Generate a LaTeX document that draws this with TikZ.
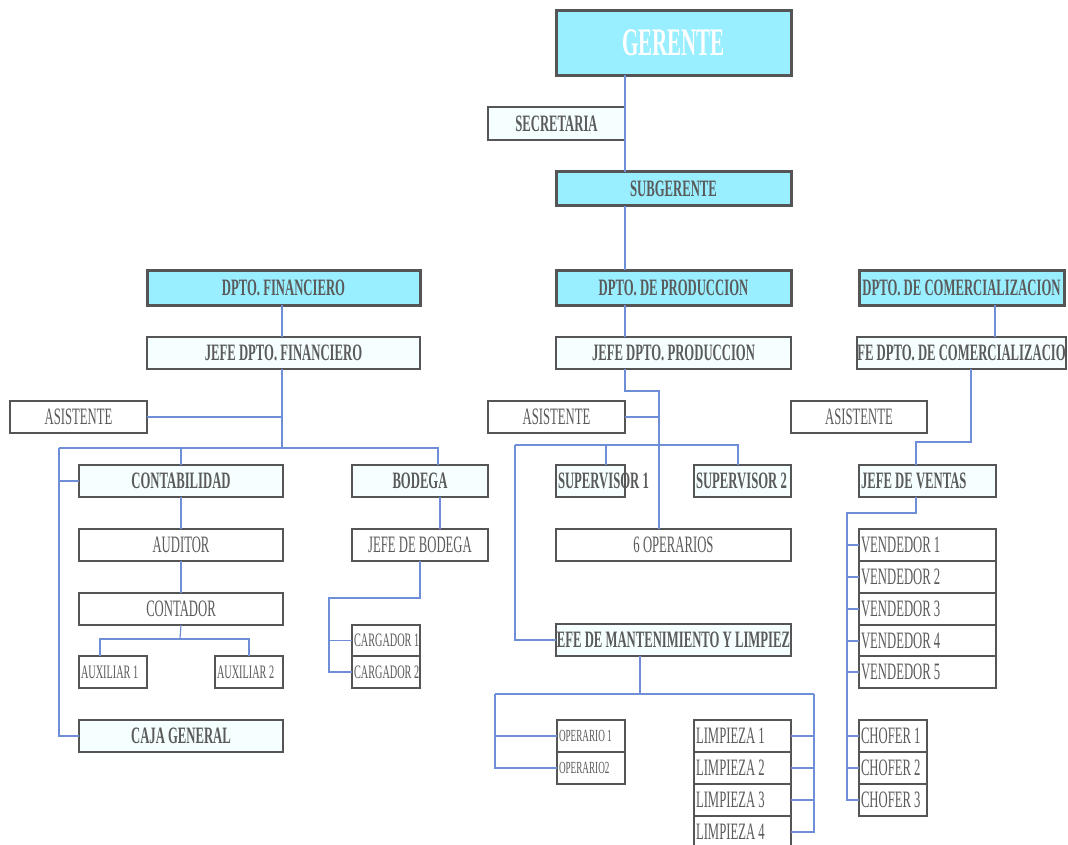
\documentclass[tikz,border=0pt]{standalone}
\usepackage{fontspec}
\setmainfont{Liberation Serif}[FakeStretch=0.54]
\usepackage{xcolor}
\definecolor{headfill}{HTML}{99EEFF}
\definecolor{chieffill}{HTML}{F5FFFF}
\definecolor{boxline}{HTML}{555555}
\definecolor{boxtext}{HTML}{5A5A5A}
\definecolor{linkblue}{HTML}{6E8FD8}
\usetikzlibrary{positioning}
\newcommand{\flushtext}[2]{\makebox[#1][l]{#2}}

\begin{document}
\begin{tikzpicture}[x=1pt, y=-1pt,
    every node/.style={inner sep=0pt, outer sep=0pt, minimum height=32pt, text=boxtext},
    head node/.style={draw=boxline, line width=3pt, fill=headfill, minimum height=35pt,
                      font=\fontsize{23.5}{25}\selectfont\bfseries},
    chief node/.style={draw=boxline, line width=1.8pt, fill=chieffill,
                       font=\fontsize{23.5}{25}\selectfont\bfseries},
    staff node/.style={draw=boxline, line width=1.8pt, fill=white,
                       font=\fontsize{23.5}{25}\selectfont},
    small node/.style={staff node, font=\fontsize{19}{21}\selectfont},
    link/.style={draw=linkblue, line width=1.2pt}]

  \useasboundingbox (0,0) rectangle (1068,845);

  % top of the chart
  \node[head node, minimum width=235pt, minimum height=65pt, text=white,
        font=\fontsize{39}{42}\selectfont\bfseries] (ger) at (673.5,43) {GERENTE};
  \node[chief node, minimum width=137pt, minimum height=33pt] (sec) at (556.5,123.5) {SECRETARIA};
  \node[head node, minimum width=235pt, minimum height=34pt] (sub) at (673.5,189) {SUBGERENTE};

  % departments
  \node[head node, minimum width=273pt] (dfin) at (283.5,287.5) {DPTO. FINANCIERO};
  \node[head node, minimum width=235pt] (dpro) at (673.5,287.5) {DPTO. DE PRODUCCION};
  \node[head node, minimum width=205pt] (dcom) at (961.5,287.5) {DPTO. DE COMERCIALIZACION};

  \node[chief node, minimum width=273pt] (jfin) at (283.5,353) {JEFE DPTO. FINANCIERO};
  \node[chief node, minimum width=235pt] (jpro) at (673.5,353) {JEFE DPTO. PRODUCCION};
  \node[chief node, minimum width=205pt] (jcom) at (961.5,353) {FE DPTO. DE COMERCIALIZACIO};

  \node[staff node, minimum width=137pt] (asf) at (78.5,417) {ASISTENTE};
  \node[staff node, minimum width=137pt] (asp) at (556.5,417) {ASISTENTE};
  \node[staff node, minimum width=136pt] (asc) at (859,417) {ASISTENTE};

  % financiero
  \node[chief node, minimum width=204pt] (cont) at (181,481) {CONTABILIDAD};
  \node[chief node, minimum width=136pt] (bod) at (420,481) {BODEGA};
  \node[staff node, minimum width=204pt] (aud) at (181,545) {AUDITOR};
  \node[staff node, minimum width=204pt] (ctd) at (181,609) {CONTADOR};
  \node[small node, minimum width=68pt] (aux1) at (113,672) {\flushtext{64pt}{AUXILIAR 1}};
  \node[small node, minimum width=68pt] (aux2) at (249,672) {\flushtext{64pt}{AUXILIAR 2}};
  \node[chief node, minimum width=204pt] (caja) at (181,736) {CAJA GENERAL};
  \node[staff node, minimum width=136pt] (jbod) at (420,545) {JEFE DE BODEGA};
  \node[small node, minimum width=68pt, minimum height=31pt] (car1) at (386,640.5) {\flushtext{64pt}{CARGADOR 1}};
  \node[small node, minimum width=68pt] (car2) at (386,672) {\flushtext{64pt}{CARGADOR 2}};

  % produccion
  \node[chief node, minimum width=69pt] (sup1) at (590.5,481) {\flushtext{65pt}{SUPERVISOR 1}};
  \node[chief node, minimum width=97pt] (sup2) at (742.5,481) {\flushtext{93pt}{SUPERVISOR 2}};
  \node[staff node, minimum width=235pt] (ope6) at (673.5,545) {6 OPERARIOS};
  \node[chief node, minimum width=235pt] (jman) at (673.5,640) {EFE DE MANTENIMIENTO Y LIMPIEZ};
  \node[small node, minimum width=68pt, font=\fontsize{17}{19}\selectfont] (op1) at (591,736) {\flushtext{64pt}{OPERARIO 1}};
  \node[small node, minimum width=68pt, font=\fontsize{17}{19}\selectfont] (op2) at (591,768) {\flushtext{64pt}{OPERARIO2}};
  \foreach \i/\y in {1/736, 2/768, 3/800, 4/832}
    \node[staff node, minimum width=97pt] (lim\i) at (742.5,\y) {\flushtext{93pt}{LIMPIEZA \i}};

  % comercializacion
  \node[chief node, minimum width=137pt] (jven) at (927.5,481) {\flushtext{133pt}{JEFE DE VENTAS}};
  \foreach \i/\y in {1/545, 2/577, 3/609, 4/641, 5/672}
    \node[staff node, minimum width=137pt] (ven\i) at (927.5,\y) {\flushtext{133pt}{VENDEDOR \i}};
  \foreach \i/\y in {1/736, 2/768, 3/800}
    \node[staff node, minimum width=68pt] (cho\i) at (893,\y) {\flushtext{64pt}{CHOFER \i}};

  % connectors, top
  \draw[link] (ger.south -| sec.east) -- (sub.north -| sec.east);
  \draw[link] (sub.south -| sec.east) -- (dpro.north -| sec.east);
  \draw[link] ([xshift=-1.5pt]dfin.south) -- ([xshift=-1.5pt]jfin.north);

  % connectors, financiero
  \coordinate (fin bus) at (282,448);
  \coordinate (fin left) at (59,448);
  \coordinate (fin right) at (438,448);
  \draw[link] (jfin.south -| fin bus) -- (fin bus);
  \draw[link] (asf.east) -- (asf.east -| fin bus);
  \draw[link] (fin left) -- (fin right) -- (fin right |- bod.north);
  \draw[link] (cont.north) -- (cont.north |- fin bus);
  \draw[link] (fin left) |- (caja.west);
  \draw[link] (fin left |- cont.west) -- (cont.west);
  \draw[link] (cont.south) -- (aud.north);
  \draw[link] (aud.south) -- (ctd.north);
  \coordinate (ctd bus) at (180,639);
  \draw[link] (ctd.south) -- (ctd bus);
  \draw[link] ([xshift=-13pt]aux1.north) |- (ctd bus) -| (aux2.north);
  \draw[link] ([xshift=20pt]bod.south) -- ([xshift=20pt]jbod.north);
  \coordinate (bod bus) at (329,598);
  \draw[link] (jbod.south) |- (bod bus) |- (car2.west);
  \draw[link] (bod bus |- car1.west) -- (car1.west);

  % connectors, produccion
  \draw[link] (dpro.south -| sec.east) -- (jpro.north -| sec.east);
  \coordinate (pro bend) at (659,391);
  \draw[link] (jpro.south -| sec.east) |- (pro bend) -- (pro bend |- ope6.north);
  \draw[link] (asp.east) -- (asp.east -| pro bend);
  \coordinate (sup left) at (515,445);
  \coordinate (sup right) at (738,445);
  \draw[link] (sup left) -- (sup right) -- (sup right |- sup2.north);
  \draw[link] ([xshift=15.5pt]sup1.north) -- ([xshift=15.5pt]sup1.north |- sup left);
  \draw[link] (sup left) |- (jman.west);
  \coordinate (man left) at (495,694);
  \coordinate (man right) at (814,694);
  \draw[link] (jman.south -| 640,0) -- (640,694);
  \draw[link] (man left) -- (man right);
  \draw[link] (man left) |- (op2.west);
  \draw[link] (man left |- op1.west) -- (op1.west);
  \draw[link] (man right) |- (lim4.east);
  \foreach \i in {1,2,3}
    \draw[link] (lim\i.east) -- (lim\i.east -| man right);

  % connectors, comercializacion
  \draw[link] ([xshift=33.5pt]dcom.south) -- ([xshift=33.5pt]jcom.north);
  \coordinate (com bend) at (916,442);
  \draw[link] ([xshift=9.5pt]jcom.south) |- (com bend) -- (com bend |- jven.north);
  \coordinate (ven bus) at (847,513);
  \draw[link] ([xshift=-11.5pt]jven.south) |- (ven bus) |- (cho3.west);
  \foreach \n in {ven1,ven2,ven3,ven4,ven5,cho1,cho2}
    \draw[link] (\n.west -| ven bus) -- (\n.west);
\end{tikzpicture}
\end{document}
